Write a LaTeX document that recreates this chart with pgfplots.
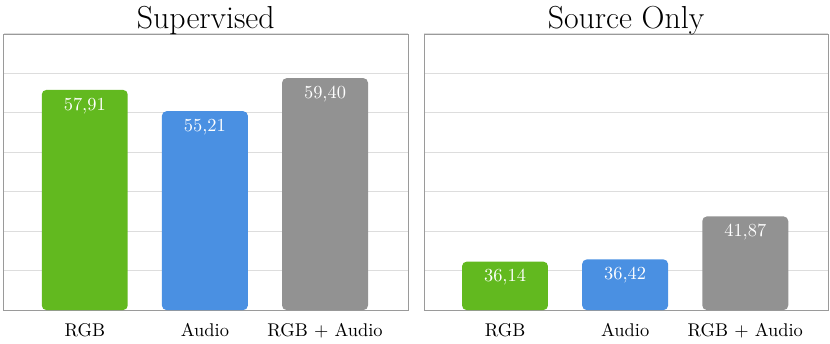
\documentclass[border=0pt]{standalone}
\usepackage{pgfplots}
\pgfplotsset{compat=1.18}
\usetikzlibrary{calc}
\definecolor{cgreen}{HTML}{62B91F}
\definecolor{cblue}{HTML}{4A90E2}
\definecolor{cgray}{HTML}{929292}
\definecolor{gridline}{HTML}{DDDDDD}
\definecolor{frame}{HTML}{9A9A9A}

\pgfplotsset{
  panel/.style={
    ybar,
    width=219.6pt, height=150pt,
    scale only axis,
    bar width=46.7pt,
    xmin=-0.675, xmax=2.69,
    ymin=30, ymax=65,
    ytick={30,35,...,65},
    yticklabels={},
    y tick label style={overlay},
    ymajorgrids,
    major grid style={draw=gridline, line width=0.6pt},
    axis line style={draw=frame},
    xtick={0,1,2},
    xticklabels={RGB, Audio, RGB + Audio},
    major tick length=0pt,
    x tick label style={font=\normalsize, yshift=-3.5pt},
    title style={font=\LARGE, yshift=-10pt},
    every axis plot/.append style={bar shift=0pt, draw=none, rounded corners=2.5pt},
    nodes near coords,
    nodes near coords style={anchor=north, text=white, font=\normalsize, yshift=-1pt,
      /pgf/number format/.cd, fixed, fixed zerofill, precision=2, use comma},
  }
}

\begin{document}
\begin{tikzpicture}
\begin{axis}[panel, title={Supervised}, name=left]
\addplot[fill=cgreen] coordinates {(0,57.91)};
\addplot[fill=cblue] coordinates {(1,55.21)};
\addplot[fill=cgray] coordinates {(2,59.40)};
\end{axis}
\begin{axis}[panel, title={Source Only}, at={($(left.south east)+(8.7pt,0)$)}, anchor=south west, name=right]
\addplot[fill=cgreen] coordinates {(0,36.14)};
\addplot[fill=cblue] coordinates {(1,36.42)};
\addplot[fill=cgray] coordinates {(2,41.87)};
\end{axis}
\path ($(left.south west)+(-2pt,0)$) ($(right.south east)+(1pt,0)$);
\end{tikzpicture}
\end{document}
